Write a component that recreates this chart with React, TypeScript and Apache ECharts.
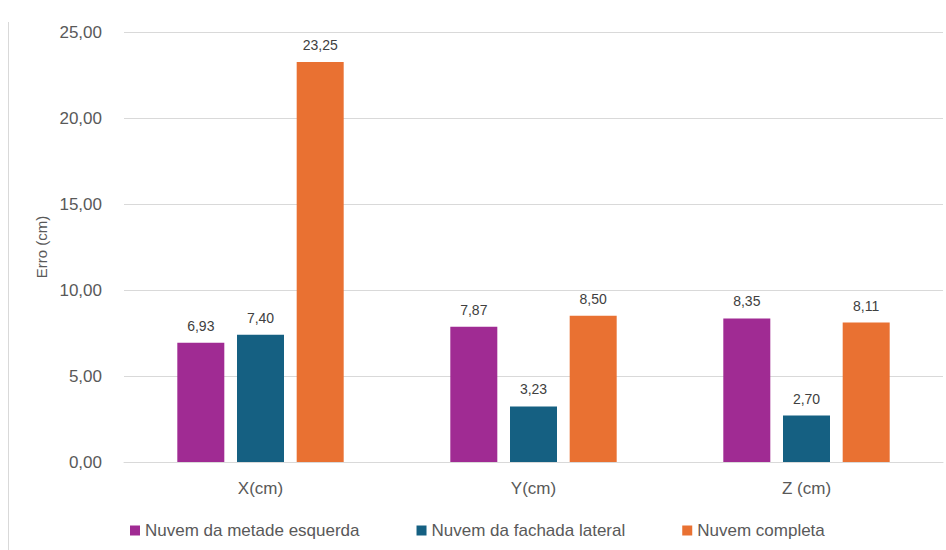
import React, { useEffect, useRef } from "react";
import * as echarts from "echarts";

const categories = ["X(cm)", "Y(cm)", "Z (cm)"];
const seriesNames = ["Nuvem da metade esquerda", "Nuvem da fachada lateral", "Nuvem completa"];
const metadeEsquerda = [6.93, 7.87, 8.35];
const fachadaLateral = [7.4, 3.23, 2.7];
const nuvemCompleta = [23.25, 8.5, 8.11];
const colors = ["#A02B93", "#156082", "#E97132"];

const fmt = (v: number) => v.toFixed(2).replace(".", ",");

export default function App() {
  const ref = useRef<HTMLDivElement>(null);
  useEffect(() => {
    if (!ref.current) return;
    const chart = echarts.init(ref.current, null, { renderer: "svg" });
    const values = [metadeEsquerda, fachadaLateral, nuvemCompleta];
    const base = "'Liberation Sans', Arial, sans-serif";
    chart.setOption({
      animation: false,
      backgroundColor: "#ffffff",
      textStyle: { fontFamily: base },
      grid: { left: 124, right: 3, top: 32, bottom: 88, containLabel: false },
      legend: {
        left: 125,
        top: 517,
        itemWidth: 10,
        itemHeight: 10,
        itemGap: 57,
        icon: "rect",
        textStyle: { color: "#595959", fontSize: 17, fontFamily: base },
        data: seriesNames,
      },
      graphic: [
        {
          type: "line",
          shape: { x1: 8.5, y1: 22, x2: 8.5, y2: 550 },
          style: { stroke: "#D9D9D9", lineWidth: 1 },
        },
      ],
      xAxis: {
        type: "category",
        data: categories,
        axisTick: { show: false },
        axisLine: { lineStyle: { color: "#D9D9D9", width: 1 } },
        axisLabel: { color: "#595959", fontSize: 17, margin: 18, fontFamily: base },
      },
      yAxis: {
        type: "value",
        min: 0,
        max: 25,
        interval: 5,
        name: "Erro (cm)",
        nameLocation: "middle",
        nameGap: 75,
        nameTextStyle: { color: "#595959", fontSize: 15, fontFamily: base },
        axisLine: { show: false },
        axisTick: { show: false },
        splitLine: { lineStyle: { color: "#D9D9D9", width: 1 } },
        axisLabel: {
          color: "#595959",
          fontSize: 17,
          margin: 22,
          fontFamily: base,
          formatter: (v: number) => fmt(v),
        },
      },
      series: seriesNames.map((name, i) => ({
        name,
        type: "bar",
        data: values[i],
        barWidth: 47,
        barGap: "27%",
        itemStyle: { color: colors[i] },
        label: {
          show: true,
          position: "top",
          distance: 10,
          color: "#404040",
          fontSize: 14,
          fontFamily: base,
          formatter: (p: any) => fmt(p.value),
        },
      })),
    });
    return () => chart.dispose();
  }, []);
  return <div ref={ref} style={{ width: 946, height: 550, position: "absolute", left: 0, top: 0 }} />;
}
